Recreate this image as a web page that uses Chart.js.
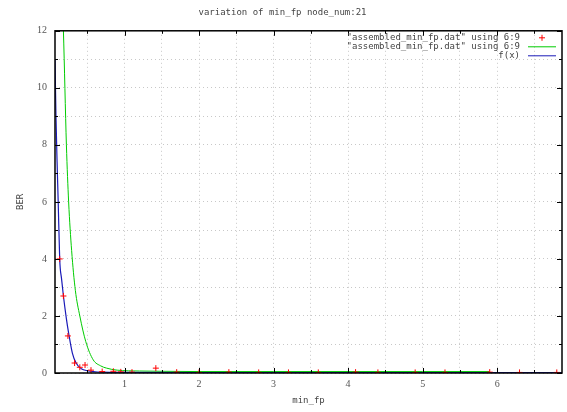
<!DOCTYPE html>
<html>
<head>
<meta charset="utf-8">
<script src="https://cdn.jsdelivr.net/npm/chart.js@4"></script>
<style>
  body { margin: 0; background: #fff; }
</style>
</head>
<body>
<canvas id="berChart" width="567" height="412"></canvas>
<script>
// points: [min_fp, BER]
const redPoints = [[0.13, 4.0], [0.18, 2.7], [0.24, 1.3], [0.33, 0.35], [0.4, 0.2], [0.47, 0.28],
    [0.55, 0.1], [0.7, 0.05], [0.85, 0.06], [0.95, 0.04], [1.1, 0.03], [1.42, 0.17], [1.7, 0.03],
    [2.0, 0.02], [2.4, 0.03], [2.8, 0.02], [3.2, 0.02], [3.6, 0.02], [4.1, 0.03], [4.4, 0.02],
    [4.9, 0.02], [5.3, 0.02], [5.9, 0.03], [6.3, 0.02], [6.8, 0.02]];
const greenLine = [[0.16, 13.5], [0.18, 12], [0.22, 8], [0.25, 6], [0.29, 4.3], [0.34, 2.9],
    [0.4, 2.0], [0.48, 1.1], [0.58, 0.46], [0.68, 0.25], [0.76, 0.17], [0.9, 0.1], [1.2, 0.07],
    [1.5, 0.06], [2, 0.05], [3, 0.05], [4, 0.05], [5, 0.05], [5.9, 0.05]];
const fxLine = [[0.067, 11], [0.08, 9], [0.095, 7.4], [0.11, 6], [0.13, 4], [0.155, 3.3],
    [0.18, 2.7], [0.22, 1.9], [0.25, 1.4], [0.3, 0.7], [0.35, 0.35], [0.42, 0.15], [0.5, 0.08],
    [0.7, 0.03], [1, 0.02], [2, 0.015], [3, 0.015], [4, 0.015], [5, 0.015], [6, 0.015], [6.87, 0.015]];

const seriesNames = ['"assembled_min_fp.dat" using 6:9', '"assembled_min_fp.dat" using 6:9', 'f(x)'];
const xTicks = [0.5, 1, 1.5, 2, 2.5, 3, 3.5, 4, 4.5, 5, 5.5, 6, 6.5];
const yTicks = [0, 1, 2, 3, 4, 5, 6, 7, 8, 9, 10, 11, 12];

const toXY = arr => arr.map(p => ({ x: p[0], y: p[1] }));
const font = { family: 'DejaVu Sans Mono', size: 9, weight: 'normal' };

// gnuplot style frame, inward ticks and legend
const gnuplotFrame = {
    id: 'gnuplotFrame',
    afterDatasetsDraw(chart) {
        const ctx = chart.ctx;
        const a = chart.chartArea;
        const xs = chart.scales.x, ys = chart.scales.y;
        ctx.save();
        ctx.strokeStyle = '#000';
        ctx.lineWidth = 1;
        ctx.beginPath();
        xTicks.forEach(v => {
            const px = Math.round(xs.getPixelForValue(v)) + 0.5;
            const len = Number.isInteger(v) ? 5 : 3;
            ctx.moveTo(px, a.bottom); ctx.lineTo(px, a.bottom - len);
            ctx.moveTo(px, a.top); ctx.lineTo(px, a.top + len);
        });
        yTicks.forEach(v => {
            const py = Math.round(ys.getPixelForValue(v)) + 0.5;
            const len = v % 2 === 0 ? 5 : 3;
            ctx.moveTo(a.left, py); ctx.lineTo(a.left + len, py);
            ctx.moveTo(a.right, py); ctx.lineTo(a.right - len, py);
        });
        ctx.stroke();
        ctx.lineWidth = 1.5;
        ctx.strokeRect(a.left, a.top, a.right - a.left, a.bottom - a.top);

        // legend, text right aligned with sample on the right
        ctx.font = font.size + 'px ' + font.family;
        ctx.textAlign = 'right';
        ctx.textBaseline = 'middle';
        chart.data.datasets.forEach((ds, i) => {
            const y = a.top + 7 + i * 9;
            ctx.fillStyle = '#444';
            ctx.fillText(ds.label, a.right - 42, y);
            ctx.strokeStyle = ds.borderColor;
            ctx.lineWidth = 1;
            ctx.beginPath();
            if (ds.showLine === false) {
                const cx = a.right - 20;
                ctx.moveTo(cx - 3, y); ctx.lineTo(cx + 3, y);
                ctx.moveTo(cx, y - 3); ctx.lineTo(cx, y + 3);
            } else {
                ctx.moveTo(a.right - 34, y); ctx.lineTo(a.right - 6, y);
            }
            ctx.stroke();
        });
        ctx.restore();
    }
};

new Chart(document.getElementById('berChart'), {
    type: 'scatter',
    data: {
        datasets: [
            {
                label: seriesNames[0],
                data: toXY(redPoints),
                showLine: false,
                borderColor: '#ff0000',
                backgroundColor: '#ff0000',
                pointStyle: 'cross',
                pointRadius: 3,
                borderWidth: 1,
                order: 0
            },
            {
                label: seriesNames[1],
                data: toXY(greenLine),
                showLine: true,
                borderColor: '#00cc00',
                borderWidth: 1,
                pointRadius: 0,
                cubicInterpolationMode: 'monotone',
                order: 2
            },
            {
                label: seriesNames[2],
                data: toXY(fxLine),
                showLine: true,
                borderColor: '#1a1ab8',
                borderWidth: 1.2,
                pointRadius: 0,
                cubicInterpolationMode: 'monotone',
                order: 1
            }
        ]
    },
    options: {
        responsive: false,
        animation: false,
        layout: { padding: { right: 2, left: 0, bottom: 0, top: 0 } },
        scales: {
            x: {
                type: 'linear',
                min: 0.067,
                max: 6.87,
                afterBuildTicks: s => { s.ticks = xTicks.map(v => ({ value: v })); },
                afterFit: s => { s.height = 39; },
                ticks: {
                    color: '#555',
                    font: { family: 'Liberation Serif', size: 10 },
                    padding: 5,
                    callback: v => Number.isInteger(v) ? v : ''
                },
                grid: { color: '#c8c8c8', drawTicks: false },
                border: { display: false, dash: [1, 3] },
                title: { display: true, text: 'min_fp', color: '#444', font: font, padding: { top: 0, bottom: 6 } }
            },
            y: {
                min: 0,
                max: 12,
                afterBuildTicks: s => { s.ticks = yTicks.map(v => ({ value: v })); },
                afterFit: s => { s.width = 55; },
                ticks: {
                    color: '#555',
                    font: { family: 'Liberation Serif', size: 10 },
                    padding: 8,
                    callback: v => v % 2 === 0 ? v : ''
                },
                grid: { color: '#c8c8c8', drawTicks: false },
                border: { display: false, dash: [1, 3] },
                title: { display: true, text: 'BER', color: '#444', font: font, padding: { top: 15, bottom: 0 } }
            }
        },
        plugins: {
            legend: { display: false },
            tooltip: { enabled: false },
            title: {
                display: true,
                text: 'variation of min_fp node_num:21',
                color: '#444',
                font: font,
                padding: { top: 7, bottom: 13 }
            }
        }
    },
    plugins: [gnuplotFrame]
});
</script>
</body>
</html>
